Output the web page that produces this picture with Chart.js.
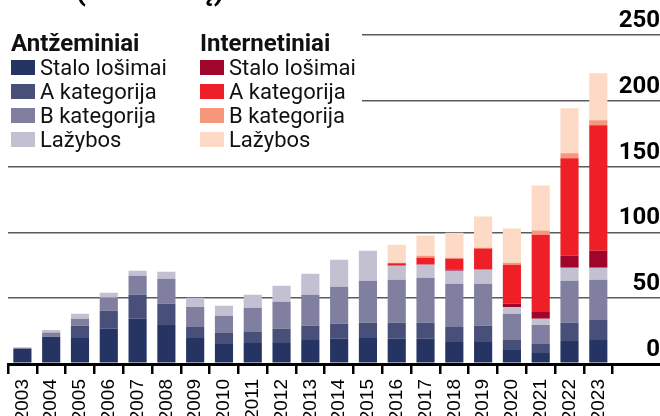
<!DOCTYPE html>
<html lang="lt">

<head>
    <meta charset="UTF-8">
    <title>Lošimų pajamos</title>
    <script src="https://cdn.jsdelivr.net/npm/chart.js"></script>
    <style>
        body {
            margin: 0;
            background: #fff;
        }

        #wrap {
            position: relative;
            width: 660px;
            height: 416px;
            overflow: hidden;
        }

        #title {
            position: absolute;
            left: 8px;
            top: -25px;
            font: bold 30px/30px Roboto, sans-serif;
            color: #000;
            white-space: nowrap;
        }

        #legend {
            position: absolute;
            left: 0;
            top: 28px;
            width: 362px;
            height: 128px;
            background: #fff;
            font-family: Roboto, sans-serif;
            color: #111;
        }

        #legend .head {
            position: absolute;
            font: bold 24px/24px Roboto, sans-serif;
            white-space: nowrap;
        }

        #legend .item {
            position: absolute;
            font: 22px/24px Roboto, sans-serif;
            white-space: nowrap;
        }

        #legend .sw {
            position: absolute;
            left: 0;
            top: 4px;
            width: 24px;
            height: 15px;
        }
    </style>
</head>

<body>
    <div id="wrap">
        <canvas id="chart" width="660" height="416"></canvas>
        <div id="title">GGR (mln. eurų)</div>
        <div id="legend"></div>
    </div>

    <script>
        const years = ['2003', '2004', '2005', '2006', '2007', '2008', '2009', '2010', '2011', '2012', '2013',
            '2014', '2015', '2016', '2017', '2018', '2019', '2020', '2021', '2022', '2023'];

        const itemNames = ['Stalo lošimai', 'A kategorija', 'B kategorija', 'Lažybos'];
        const groupNames = ['Antžeminiai', 'Internetiniai'];

        // antžeminiai (land based)
        const landStalo = [11.4, 20.6, 19.8, 26.7, 34.3, 29.7, 19.8, 15.2, 16.0, 16.0, 18.3, 19.1, 19.8, 19.1, 19.1, 16.8, 16.8, 10.7, 8.4, 17.5, 18.3];
        const landA = [0.4, 0.3, 9.2, 13.7, 18.3, 16.0, 8.4, 8.4, 8.4, 10.7, 10.7, 11.4, 11.5, 12.2, 12.2, 11.4, 12.2, 7.6, 6.8, 13.8, 15.2];
        const landB = [0.4, 3.0, 5.3, 9.9, 14.5, 19.1, 15.2, 13.0, 18.3, 20.6, 23.6, 28.2, 32.0, 32.7, 34.2, 32.8, 32.0, 19.8, 14.5, 32.0, 30.5];
        const landLazybos = [0.5, 2.0, 3.8, 3.8, 3.8, 5.3, 6.9, 7.6, 9.9, 12.2, 16.0, 20.6, 22.8, 10.7, 10.0, 9.9, 10.6, 5.3, 4.6, 9.9, 9.2];

        // internetiniai (online)
        const netStalo = [0, 0, 0, 0, 0, 0, 0, 0, 0, 0, 0, 0, 0, 0.3, 0.2, 0.7, 0.3, 2.3, 5.3, 9.1, 12.9];
        const netA = [0, 0, 0, 0, 0, 0, 0, 0, 0, 0, 0, 0, 0, 1.5, 5.1, 8.4, 15.8, 29.8, 58.7, 74.0, 95.3];
        const netB = [0, 0, 0, 0, 0, 0, 0, 0, 0, 0, 0, 0, 0, 0.5, 1.5, 0.8, 0.7, 1.5, 3.1, 3.8, 3.8];
        const netLazybos = [0, 0, 0, 0, 0, 0, 0, 0, 0, 0, 0, 0, 0, 13.7, 15.3, 19.0, 23.6, 25.9, 34.3, 34.3, 35.8];

        const yTicks = [0, 50, 100, 150, 200, 250];

        const landColors = ['#253463', '#484f78', '#807f9f', '#c2c0d1'];
        const netColors = ['#a0052b', '#ee1f26', '#f6967a', '#fddac6'];

        const landSeries = [landStalo, landA, landB, landLazybos];
        const netSeries = [netStalo, netA, netB, netLazybos];

        // legend (two columns with headers)
        const legend = document.getElementById('legend');
        [[landColors, 11], [netColors, 200]].forEach(([cols, left], g) => {
            const h = document.createElement('div');
            h.className = 'head';
            h.style.left = left + 'px';
            h.style.top = '3.3px';
            h.textContent = groupNames[g];
            legend.appendChild(h);
            itemNames.forEach((name, i) => {
                const it = document.createElement('div');
                it.className = 'item';
                it.style.left = left + 'px';
                it.style.top = (28.3 + i * 24) + 'px';
                it.style.paddingLeft = '29px';
                it.innerHTML = '<span class="sw" style="background:' + cols[i] + '"></span>';
                it.appendChild(document.createTextNode(name));
                legend.appendChild(it);
            });
        });

        const yFont = { family: '"Liberation Sans Narrow", "Roboto", sans-serif', size: 24, weight: 'bold' };
        const measure = document.createElement('canvas').getContext('2d');
        measure.font = 'bold 24px "Liberation Sans Narrow"';
        const widest = measure.measureText('250').width;

        const datasets = [];
        landSeries.forEach((d, i) => datasets.push({
            label: groupNames[0] + ' ' + itemNames[i], data: d, backgroundColor: landColors[i]
        }));
        netSeries.forEach((d, i) => datasets.push({
            label: groupNames[1] + ' ' + itemNames[i], data: d, backgroundColor: netColors[i]
        }));
        datasets.forEach(ds => {
            ds.barPercentage = 0.63;
            ds.categoryPercentage = 1;
            ds.borderWidth = 0;
        });

        new Chart(document.getElementById('chart'), {
            type: 'bar',
            data: { labels: years, datasets: datasets },
            options: {
                responsive: false,
                animation: false,
                devicePixelRatio: 1,
                layout: { padding: { left: 8, top: 35, right: 0, bottom: 0 } },
                plugins: {
                    legend: { display: false },
                    tooltip: { enabled: false }
                },
                scales: {
                    x: {
                        stacked: true,
                        grid: {
                            offset: true,
                            drawOnChartArea: false,
                            drawTicks: true,
                            tickLength: 10,
                            color: '#000',
                            lineWidth: 2.5
                        },
                        border: { display: true, color: '#000', width: 3 },
                        ticks: {
                            autoSkip: false,
                            maxRotation: 90,
                            minRotation: 90,
                            padding: 5,
                            color: '#000',
                            font: { family: '"Liberation Sans Narrow", sans-serif', size: 19 }
                        },
                        afterFit: (s) => { s.height = 52; }
                    },
                    y: {
                        stacked: true,
                        position: 'right',
                        min: 0,
                        max: 250,
                        afterBuildTicks: (s) => { s.ticks = yTicks.map(v => ({ value: v })); },
                        grid: {
                            drawTicks: true,
                            tickLength: 48,
                            color: (c) => c.tick && c.tick.value === 0 ? '#000' : '#5a5a5a',
                            lineWidth: (c) => c.tick && c.tick.value === 0 ? 3 : 1.5
                        },
                        border: { display: false },
                        ticks: {
                            crossAlign: 'far',
                            padding: -3 - widest,
                            labelOffset: -14,
                            color: '#000',
                            font: yFont
                        },
                        afterFit: (s) => { s.width = 47.3; }
                    }
                }
            }
        });
    </script>
</body>

</html>
